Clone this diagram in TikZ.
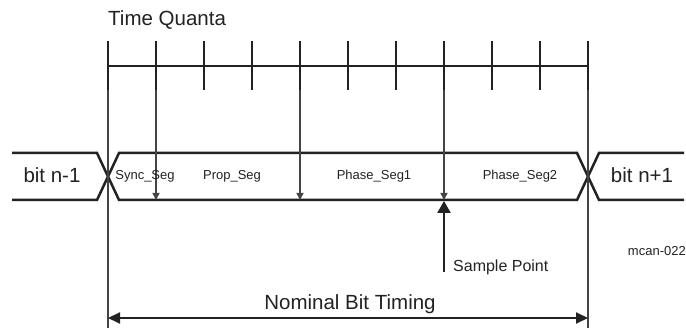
\documentclass[tikz,border=0pt]{standalone}
\usepackage{fontspec}
\setmainfont{Liberation Sans}
\usetikzlibrary{arrows.meta}
\definecolor{ink}{HTML}{222222}
\definecolor{guide}{HTML}{444444}
\begin{document}
\begin{tikzpicture}[x=1pt,y=-1pt,
  busline/.style={draw=ink, line width=2.5pt, line join=miter},
  tickline/.style={draw=ink, line width=2.5pt},
  axisline/.style={draw=ink, line width=2pt},
  guideline/.style={draw=guide, line width=1.3pt},
  downarrow/.style={guideline, -{Triangle[length=7pt,width=7pt]}},
  samplearrow/.style={draw=ink, line width=2.2pt, -{Triangle[length=12pt,width=13pt]}},
  spanarrow/.style={draw=ink, line width=2pt, {Triangle[length=12pt,width=11pt]}-{Triangle[length=12pt,width=11pt]}},
  bigtext/.style={text=ink, font=\fontsize{20.5}{24}\selectfont, inner sep=0pt},
  midtext/.style={text=ink, font=\fontsize{16}{19}\selectfont, inner sep=0pt},
  smalltext/.style={text=ink, font=\fontsize{13}{15}\selectfont, inner sep=0pt}]
\useasboundingbox (0,0) rectangle (686,328);
\fill[white] (0,0) rectangle (686,328);

% time quanta axis
\foreach \i in {0,...,10} {
  \coordinate (tt\i) at (108+48*\i,41);
  \coordinate (tm\i) at (108+48*\i,66);
  \coordinate (tb\i) at (108+48*\i,90);
  \draw[tickline] (tt\i) -- (tb\i);
}
\draw[axisline] (tm0) -- (tm10);
\node[bigtext, anchor=base west] (tq) at (108,26) {Time Quanta};

% bus
\draw[busline] (12,153) -- (97,153) -- (119,200) -- (577,200) -- (599,153) -- (684,153);
\draw[busline] (12,200) -- (97,200) -- (119,153) -- (577,153) -- (599,200) -- (684,200);

% guide lines and arrows
\coordinate (g0) at (108,328);
\coordinate (g10) at (588,328);
\draw[guideline] (tb0) -- (g0);
\draw[guideline] (tb10) -- (g10);
\coordinate (a1) at (156,200);
\coordinate (a4) at (300,200);
\coordinate (a7) at (444,200);
\draw[downarrow] (tb1) -- (a1);
\draw[downarrow] (tb4) -- (a4);
\draw[downarrow] (tb7) -- (a7);

% sample point
\coordinate (sp) at (444,272);
\coordinate (spt) at (444,201);
\draw[samplearrow] (sp) -- (spt);
\node[midtext, anchor=base west] (spl) at (453,272) {Sample Point};

% labels in bus
\node[bigtext, anchor=base] (bprev) at (52,183) {bit n-1};
\node[bigtext, anchor=base] (bnext) at (642,183) {bit n+1};
\node[smalltext, anchor=base] (sync) at (145,180) {Sync\_Seg};
\node[smalltext, anchor=base] (prop) at (232,180) {Prop\_Seg};
\node[smalltext, anchor=base] (ph1) at (374,180) {Phase\_Seg1};
\node[smalltext, anchor=base] (ph2) at (520,180) {Phase\_Seg2};

% figure id
\node[smalltext, anchor=base east] (fid) at (686,256) {mcan-022};

% nominal bit timing
\coordinate (n0) at (108,318);
\coordinate (n1) at (588,318);
\draw[spanarrow] (n0) -- (n1);
\node[bigtext, anchor=base] (nbt) at (350,310) {Nominal Bit Timing};
\end{tikzpicture}
\end{document}
